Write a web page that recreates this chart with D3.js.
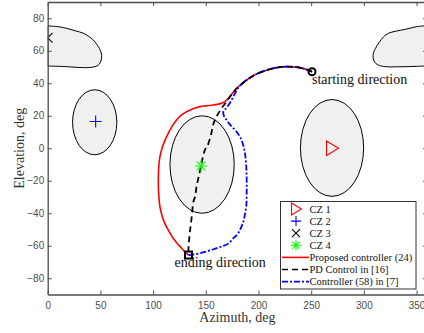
<!DOCTYPE html>
<html><head><meta charset="utf-8">
<script src="https://cdn.jsdelivr.net/npm/d3@7"></script>
<style>body{margin:0;background:#fff}svg{display:block}</style>
</head><body>
<script>
// ---- data (degrees) ----
const xTicks = [0,50,100,150,200,250,300,350];
const yTicks = [-80,-60,-40,-20,0,20,40,60,80];

// cone-of-zone ellipses: [azCenter, elCenter, azHalf, elHalf]
const czEllipses = [
  [269.8, 0.2, 30, 29.8],
  [44.6, 16, 21, 20],
  [146.5, -10, 30.5, 30]
];
// CZ3 wraps around azimuth 0/360
const cz3Left = [[0,75.3],[10,74.8],[18,73.8],[26,72.3],[33.8,70.8],[39,68.8],[43.3,66.6],[46.5,64],[49,61.5],[50.6,59],[51.2,57],[50.9,54.8],[49.8,52.6],[47.8,51],[44.9,50.2],[40,49.7],[33.8,49.6],[25,49.9],[18,50.2],[10,50.4],[0,50.6]];
const cz3Right = [[360,75.3],[357,75.3],[350,74.8],[339.3,73.2],[330,72],[323.5,70.8],[318.5,68.5],[314.5,65],[311,61.5],[309,58.5],[308.8,55.5],[310.3,53],[313.5,51.2],[320.3,50.2],[330,50.1],[339.3,50.2],[350,50.4],[360,50.6]];

const czMarkers = [
  {name:"CZ 1", az:269.7, el:0, sym:"tri", color:"#ff0000"},
  {name:"CZ 2", az:45.5, el:16.5, sym:"plus", color:"#0000ff"},
  {name:"CZ 3", az:0, el:68, sym:"cross", color:"#000000"},
  {name:"CZ 4", az:145.5, el:-10.9, sym:"star", color:"#00ff00"}
];

const startDir = [250.8, 47.1];
const endDir = [133.6, -65.7];

const common = [[250.8,47.1],[244,48.8],[236,49.9],[225,50.2],[214,49.2],[203.4,47.1],[196,45],[188.8,42],[184,39.5],[179.3,36.9],[176,34.4],[173,31.8]];
const proposed = common.concat([[168.2,28.7],[163,27.3],[157.1,26.6],[150,26.1],[144.5,25.6],[138,24.3],[131.8,22.5],[126.5,20.3],[122.3,17.4],[118,13.5],[114.4,9.2],[111.3,5],[108.5,0],[106.5,-5.2],[105.3,-12],[105,-18],[105,-23.6],[105.5,-30],[106.5,-36],[108.5,-41.5],[111.3,-46.5],[115,-51],[119.2,-55.5],[123,-58.6],[127.1,-61.5],[130.5,-64],[133.6,-65.7]]);
const pdControl = common.concat([[169,28],[165,24.6],[161.5,21],[158.7,17.4],[156.8,14],[155.6,10.2],[153.5,5],[151.3,1],[149.2,-1],[147,-6],[145.5,-10.9],[143.5,-17],[141.4,-23],[139.8,-29.8],[138.2,-33],[137,-40],[136,-46],[135,-51],[134.2,-56.4],[133.6,-61.5],[133.6,-65.7]]);
const ctrl58 = common.slice(0,9).concat([[181,37.5],[177.5,33.5],[173,28],[168.5,24],[166.6,22.5],[167.5,19.5],[169.8,17.4],[173,14.5],[177.7,11.3],[182.4,7.1],[185.5,2],[187.2,-3.1],[188.3,-10],[188.8,-19.5],[188.8,-28.7],[188.5,-35],[187.2,-40.5],[185.6,-45.2],[183,-49.5],[180,-53],[176.1,-55.4],[171.7,-58.5],[166,-60.3],[160.3,-61.5],[152,-63.3],[144.5,-64.6],[138,-65.4],[133.6,-65.7]]);

const seriesNames = ["Proposed controller (24)","PD Control in [16]","Controller (58) in [7]"];

// ---- drawing ----
const W = 424, H = 333;
const svg = d3.select("body").append("svg").attr("width",W).attr("height",H);
const x = d3.scaleLinear().domain([0,360]).range([47.7, 427.1]);
const y = d3.scaleLinear().domain([-90,90]).range([294.5, 2]);
const x0 = x(0), x1 = x(360), y0 = y(-90), y1 = y(90);

svg.append("clipPath").attr("id","plot").append("rect")
  .attr("x",x0).attr("y",y1).attr("width",x1-x0).attr("height",y0-y1);
const g = svg.append("g").attr("clip-path","url(#plot)");

const line = d3.line().x(d=>x(d[0])).y(d=>y(d[1])).curve(d3.curveCatmullRom.alpha(0.5));

// CZ regions
g.selectAll("ellipse.cz").data(czEllipses).join("ellipse").attr("class","cz")
  .attr("cx",d=>x(d[0])).attr("cy",d=>y(d[1]))
  .attr("rx",d=>x(d[0]+d[2])-x(d[0])).attr("ry",d=>y(d[1]-d[3])-y(d[1]))
  .attr("fill","#f0f0f0").attr("stroke","#000").attr("stroke-width",1);
[cz3Left, cz3Right].forEach(b=>{
  g.append("path").attr("d",line(b)+"Z")
    .attr("fill","#f0f0f0").attr("stroke","#000").attr("stroke-width",1);
});

// trajectories
g.append("path").attr("d",line(proposed)).attr("fill","none")
  .attr("stroke","#ff0000").attr("stroke-width",1.6);
g.append("path").attr("d",line(ctrl58)).attr("fill","none")
  .attr("stroke","#0000ff").attr("stroke-width",1.8).attr("stroke-dasharray","6,2,2,2");
g.append("path").attr("d",line(pdControl)).attr("fill","none")
  .attr("stroke","#000").attr("stroke-width",1.8).attr("stroke-dasharray","6,4");

// marker symbols
function drawSym(sel, sym, color, cx, cy, s){
  const gg = sel.append("g").attr("transform",`translate(${cx},${cy})`)
    .attr("fill","none").attr("stroke",color).attr("stroke-width",1.1);
  if(sym==="tri"){
    gg.append("path").attr("d",`M${-s*0.45},${-s*0.6}L${s*0.55},0L${-s*0.45},${s*0.6}Z`);
  } else if(sym==="plus"){
    gg.append("path").attr("d",`M${-s/2},0H${s/2}M0,${-s/2}V${s/2}`);
  } else if(sym==="cross"){
    const r=s*0.4;
    gg.append("path").attr("d",`M${-r},${-r}L${r},${r}M${-r},${r}L${r},${-r}`);
  } else if(sym==="star"){
    const r=s/2, q=s*0.36;
    gg.append("path").attr("d",`M${-r},0H${r}M0,${-r}V${r}M${-q},${-q}L${q},${q}M${-q},${q}L${q},${-q}`);
  }
}
czMarkers.forEach(m=>drawSym(g, m.sym, m.color, x(m.az), y(m.el), 12));

// start / end markers
g.append("circle").attr("cx",x(startDir[0])).attr("cy",y(startDir[1])).attr("r",3.5)
  .attr("fill","none").attr("stroke","#000").attr("stroke-width",2);
g.append("rect").attr("x",x(endDir[0])-3.5).attr("y",y(endDir[1])-3.5).attr("width",7).attr("height",7)
  .attr("fill","none").attr("stroke","#000").attr("stroke-width",2);

// axes
const axCol = "#4d4d4d";
const xAxis = svg.append("g").attr("transform",`translate(0,${y0})`)
  .call(d3.axisBottom(x).tickValues(xTicks).tickSizeInner(-4).tickSizeOuter(0).tickPadding(7));
const yAxis = svg.append("g").attr("transform",`translate(${x0},0)`)
  .call(d3.axisLeft(y).tickValues(yTicks).tickSizeInner(-4).tickSizeOuter(0).tickPadding(3.5));
const xTop = svg.append("g").attr("transform",`translate(0,${y1})`)
  .call(d3.axisTop(x).tickValues(xTicks).tickSizeInner(-4).tickSizeOuter(0).tickFormat(""));
const yRight = svg.append("g").attr("transform",`translate(${x1},0)`)
  .call(d3.axisRight(y).tickValues(yTicks).tickSizeInner(-4).tickSizeOuter(0).tickFormat(""));
[xAxis,yAxis,xTop,yRight].forEach(a=>{
  a.select(".domain").attr("stroke",axCol).attr("stroke-width",1.3);
  a.selectAll(".tick line").attr("stroke",axCol);
  a.selectAll("text").attr("fill",axCol).attr("font-family","'Liberation Sans',Arial,sans-serif").attr("font-size",10);
});

const serif = "'Liberation Serif','Times New Roman',serif";
svg.append("text").attr("x",(x0+x1)/2).attr("y",322).attr("text-anchor","middle")
  .attr("font-family",serif).attr("font-size",14).attr("fill","#333").text("Azimuth, deg");
svg.append("text").attr("transform",`translate(24,${(y0+y1)/2}) rotate(-90)`).attr("text-anchor","middle")
  .attr("font-family",serif).attr("font-size",14).attr("fill","#333").text("Elevation, deg");

// annotations
svg.append("text").attr("x",x(startDir[0])).attr("y",y(startDir[1])+12.5)
  .attr("font-family",serif).attr("font-size",14).attr("fill","#111").text("starting direction");
svg.append("text").attr("x",x(endDir[0])-14).attr("y",y(endDir[1])+12)
  .attr("font-family",serif).attr("font-size",14).attr("fill","#111").text("ending direction");

// legend
const lg = svg.append("g");
lg.append("rect").attr("x",280.5).attr("y",201.5).attr("width",135.5).attr("height",87.5)
  .attr("fill","#fff").attr("stroke","#333").attr("stroke-width",1);
const rowY = i=>209+i*12.1;
czMarkers.forEach((m,i)=>{
  drawSym(lg, m.sym, m.color, 296, rowY(i), 10);
  lg.append("text").attr("x",309.5).attr("y",rowY(i)+3.8).attr("font-family",serif)
    .attr("font-size",10.5).attr("fill","#111").text(m.name);
});
const lineStyles = [
  {color:"#ff0000", dash:null},
  {color:"#000", dash:"6,4"},
  {color:"#0000ff", dash:"6,2,2,2"}
];
seriesNames.forEach((nm,k)=>{
  const i = k+4;
  const l = lg.append("line").attr("x1",282).attr("x2",309).attr("y1",rowY(i)).attr("y2",rowY(i))
    .attr("stroke",lineStyles[k].color).attr("stroke-width",1.6);
  if(lineStyles[k].dash) l.attr("stroke-dasharray",lineStyles[k].dash);
  lg.append("text").attr("x",309.5).attr("y",rowY(i)+3.8).attr("font-family",serif)
    .attr("font-size",10.5).attr("fill","#111").text(nm);
});
</script>
</body></html>
